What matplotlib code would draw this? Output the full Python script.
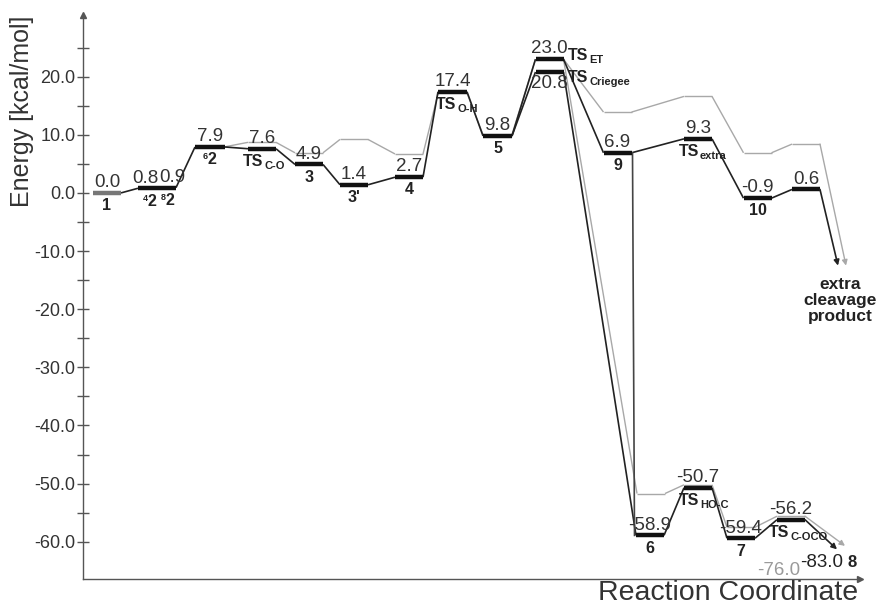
import matplotlib.pyplot as plt

plt.rcParams['font.family'] = ['Liberation Sans', 'DejaVu Sans']

# Energies (kcal/mol) of each level, in reaction order
main_names = ['1', '42', '82', '62', 'TSCO', '3', "3'", '4', 'TSOH', '5']
main_energy = [0.0, 0.8, 0.9, 7.9, 7.6, 4.9, 1.4, 2.7, 17.4, 9.8]
main_pos = [107, 147.5, 166.5, 210, 262, 309, 354, 409, 452.5, 497.5]
main_halfw = [14, 9.5, 9.5, 15, 14, 14, 14, 14, 14.5, 14.5]

# electron-transfer branch
et_names = ['TSET', '9', 'TSextra', '10', 'P']
et_energy = [23.0, 6.9, 9.3, -0.9, 0.6]
et_pos = [549.5, 617.5, 698, 757.5, 806]

# Criegee branch
cr_names = ['TSCr', '6', 'TSHOC', '7', 'TSCOCO']
cr_energy = [20.8, -58.9, -50.7, -59.4, -56.2]
cr_pos = [549.5, 650, 698, 741, 791]

# higher spin surface (unlabelled grey path)
grey_hi_energy = [7.9, 8.7, 6.9, 9.2, 6.7, 17.4, 9.8, 23.0, 13.9, 16.6, 6.9, 8.4]
grey_hi_pos = [210, 262, 309, 354, 409, 452.5, 497.5, 549.5, 617.5, 698, 757.5, 806]
grey_lo_energy = [23.0, -51.7, -50.2, -57.5, -55.6]
grey_lo_pos = [549.5, 651, 698, 741, 791]

product_8 = [-76.0, -83.0]
cleavage_end = -12.5
arrow_end_8 = -61.3

yticks = [20.0, 10.0, 0.0, -10.0, -20.0, -30.0, -40.0, -50.0, -60.0]

HW = 14
fig = plt.figure(figsize=(8.79, 6.06), dpi=100)
ax = fig.add_axes([83 / 879, 27 / 606, (860 - 83) / 879, (579 - 15) / 606])
ax.set_xlim(83, 860)
ax.set_ylim(-66.4, 30.6)

GREY = '#a8a8a8'


def connect(xs, ys, hws, color, lw, zorder):
    # link right edge of each level to left edge of the next one
    for i in range(len(xs) - 1):
        ax.plot([xs[i] + hws[i], xs[i + 1] - hws[i + 1]], [ys[i], ys[i + 1]],
                color=color, lw=lw, zorder=zorder, solid_capstyle='butt')


def flat(xs, ys, hws, color, lw, zorder):
    for x, y, h in zip(xs, ys, hws):
        ax.plot([x - h, x + h], [y, y], color=color, lw=lw, zorder=zorder,
                solid_capstyle='butt')


def arrow(x0, y0, x1, y1, color, lw):
    ax.annotate('', xy=(x1, y1), xytext=(x0, y0),
                arrowprops=dict(arrowstyle='-|>', color=color, lw=lw,
                                mutation_scale=8, shrinkA=0, shrinkB=0))


# grey surface
ghw = [HW] * len(grey_hi_pos)
connect(grey_hi_pos, grey_hi_energy, ghw, GREY, 1.0, 1)
flat(grey_hi_pos, grey_hi_energy, ghw, GREY, 1.0, 1)
glw = [HW] * len(grey_lo_pos)
connect(grey_lo_pos, grey_lo_energy, glw, GREY, 1.0, 1)
flat(grey_lo_pos, grey_lo_energy, glw, GREY, 1.0, 1)
arrow(806 + HW, grey_hi_energy[-1], 846, cleavage_end, GREY, 1.0)
arrow(791 + HW, grey_lo_energy[-1], 845, arrow_end_8 + 0.6, GREY, 1.0)

# black paths
connect(main_pos, main_energy, main_halfw, '#222222', 1.2, 2)
connect([main_pos[-1]] + et_pos, [main_energy[-1]] + et_energy,
        [main_halfw[-1]] + [HW] * 5, '#222222', 1.2, 2)
connect([main_pos[-1]] + cr_pos, [main_energy[-1]] + cr_energy,
        [main_halfw[-1]] + [HW] * 5, '#222222', 1.2, 2)
# 9 -> 6 drop
ax.plot([et_pos[1] + HW + 1, et_pos[1] + HW + 3], [et_energy[1], cr_energy[1]],
        color='#444444', lw=1.2, zorder=2)

bar_colors = ['#777777'] + ['#111111'] * (len(main_pos) - 1)
for x, y, h, c in zip(main_pos, main_energy, main_halfw, bar_colors):
    ax.plot([x - h, x + h], [y, y], color=c, lw=3.2, zorder=3, solid_capstyle='butt')
flat(et_pos, et_energy, [HW] * 5, '#111111', 3.2, 3)
flat(cr_pos, cr_energy, [HW] * 5, '#111111', 3.2, 3)

arrow(806 + HW, et_energy[-1], 838, cleavage_end, '#222222', 1.2)
arrow(791 + HW, cr_energy[-1], 837, arrow_end_8, '#222222', 1.2)

# energy values above the levels
VFS = 13.5
value_x = main_pos[:1] + [145, 172] + main_pos[3:] + et_pos + cr_pos
value_y = main_energy + et_energy + cr_energy
for x, y in zip(value_x, value_y):
    if y == 20.8:
        ax.text(x, y - 0.6, f'{y:.1f}', fontsize=VFS, color='#333333',
                ha='center', va='top')
        continue
    ax.text(x, y + 0.3, f'{y:.1f}', fontsize=VFS, color='#333333',
            ha='center', va='bottom')
ax.text(800, -64.9, f'{product_8[0]:.1f}', fontsize=VFS, color='#9a9a9a',
        ha='right', va='center')
ax.text(800, -63.6, f'{product_8[1]:.1f}', fontsize=VFS, color='#222222',
        ha='left', va='center')
ax.text(847, -63.6, '8', fontsize=12, fontweight='bold', color='#222222',
        ha='left', va='center')

# species labels
LAB = dict(fontsize=11.5, fontweight='bold', color='#222222')


def species(x, y, main, sub=None, sup=None, ha='center', va='top'):
    t = ax.text(x, y, main, ha=ha, va=va, **LAB)
    if sub:
        ax.annotate(sub, xy=(1, 0), xycoords=t, xytext=(0.6, -1.5),
                    textcoords='offset points', fontsize=8, fontweight='bold',
                    color='#222222', ha='left', va='bottom')
    if sup:
        ax.annotate(sup, xy=(0, 1), xycoords=t, xytext=(0.2, 0),
                    textcoords='offset points', fontsize=6.5, fontweight='bold',
                    color='#222222', ha='right', va='top')
    return t


off = 0.9
species(main_pos[0], main_energy[0] - off, '1')
species(152, main_energy[1] - off, '2', sup='4')
species(170, main_energy[2] - off, '2', sup='8')
species(main_pos[3] + 2, main_energy[3] - off, '2', sup='6')
species(main_pos[4] - 9, main_energy[4] - off, 'TS', sub='C-O')
species(main_pos[5], main_energy[5] - off, '3')
species(main_pos[6], main_energy[6] - off, "3'")
species(main_pos[7], main_energy[7] - off, '4')
species(main_pos[8] - 6, main_energy[8] - off, 'TS', sub='O-H')
species(main_pos[9], main_energy[9] - off, '5')
species(568, et_energy[0] + 0.6, 'TS', sub='ET', ha='left', va='center')
species(568, cr_energy[0] - 1.0, 'TS', sub='Criegee', ha='left', va='center')
species(et_pos[1], et_energy[1] - off, '9')
species(et_pos[2] - 9, et_energy[2] - off, 'TS', sub='extra')
species(et_pos[3], et_energy[3] - off, '10')
species(cr_pos[1], cr_energy[1] - off, '6')
species(cr_pos[2] - 9, cr_energy[2] - off, 'TS', sub='HO-C')
species(cr_pos[3], cr_energy[3] - off, '7')
species(cr_pos[4] - 12, cr_energy[4] - off, 'TS', sub='C-OCO')
ax.text(840, -14.4, 'extra\ncleavage\nproduct', fontsize=12.5, fontweight='bold',
        color='#222222', ha='center', va='top', linespacing=1.1)

# axes styling
for s in ['top', 'right']:
    ax.spines[s].set_visible(False)
for s in ['left', 'bottom']:
    ax.spines[s].set_color('#555555')
    ax.spines[s].set_linewidth(1.0)
ax.set_yticks(yticks)
ax.set_yticklabels([f'{v:.1f}' for v in yticks])
ax.set_yticks([25, 15, 5, -5, -15, -25, -35, -45, -55], minor=True)
ax.tick_params(axis='y', which='both', direction='inout', length=9, width=1,
               color='#555555', labelsize=13, labelcolor='#333333', pad=1)
ax.set_xticks([])
ax.plot(0, 1, marker='^', color='#555555', ms=4, transform=ax.transAxes, clip_on=False)
ax.plot(1, 0, marker='>', color='#555555', ms=4, transform=ax.transAxes, clip_on=False)

fig.text(0.025, 1 - 111 / 606, 'Energy [kcal/mol]', rotation=90, fontsize=18,
         ha='center', va='center', color='#333333')
fig.text(858 / 879, 1 - 593 / 606, 'Reaction Coordinate', fontsize=20.5,
         ha='right', va='center', color='#333333')

fig.savefig('out.png', dpi=100, facecolor='white')
